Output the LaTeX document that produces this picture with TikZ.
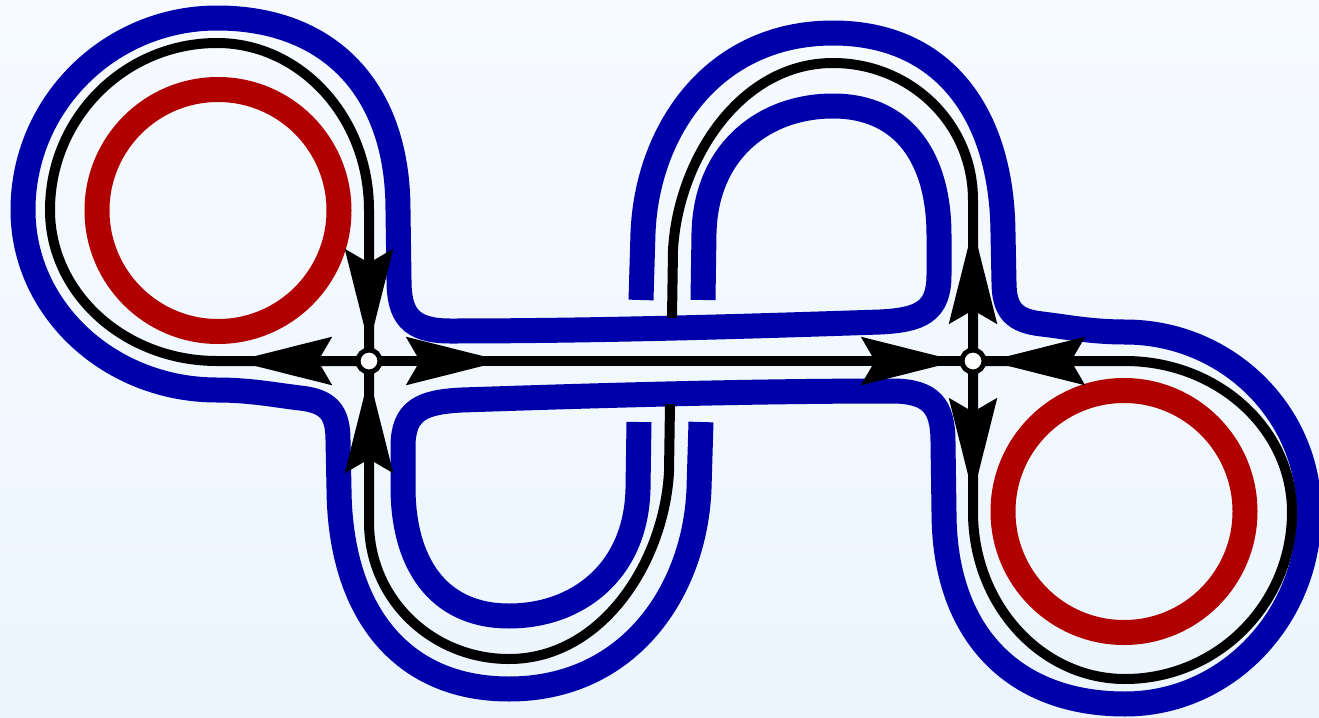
\documentclass[tikz,border=0pt]{standalone}
\usetikzlibrary{arrows.meta,decorations.markings}
\definecolor{bordoblu}{RGB}{0,0,170}
\definecolor{facciarossa}{RGB}{176,0,0}
\definecolor{sfondoalto}{RGB}{247,251,255}
\definecolor{sfondobasso}{RGB}{236,245,254}
\tikzset{
  vert/.style   = {circle, draw, line width=2.5pt, fill=white, minimum size=11pt, inner sep=0},
  bordo/.style  = {draw=bordoblu, line width=12.5pt},
  faccia/.style = {draw=facciarossa, line width=12.5pt},
  lato/.style   = {draw, line width=5pt},
  >={Stealth[length=48pt, width=23.5pt, inset=6.5pt]},
  esce/.style   = {postaction={decorate, decoration={markings, mark=at position 67pt with {\arrow{>}}}}},
  entra/.style  = {postaction={decorate, decoration={markings, mark=at position -7.5pt with {\arrow{>}}}}}
}
\newcommand{\mezzobordo}[1]{%
  \draw[bordo] (703,300) -- (704,233) .. controls (706,150) and (765,106) .. (833,106)
    .. controls (905,106) and (939,160) .. (939,235) -- (939,275)
    .. controls (939,312) and (920,320) .. (880,322)
    .. controls (760,326) and (600,331) .. (450,331)
    .. controls (410,331) and (399,315) .. (399,280) -- (398,210)
    .. controls (398,90) and (330,18) .. (217,18)
    arc[start angle=270, end angle=180, x radius=#1, y radius=192]
    arc[start angle=180, end angle=90, x radius=#1, y radius=180]
    .. controls (250,390) and (275,395) .. (300,398)
    .. controls (328,401) and (338,412) .. (338,440) -- (339,489)
    .. controls (340,610) and (400,689) .. (509,689)
    .. controls (630,689) and (695,590) .. (699,489) -- (701,422);}

\begin{document}
\begin{tikzpicture}[x=0.5pt, y=-0.5pt]
  \useasboundingbox (0,0) rectangle (1319,718);
  \shade[top color=sfondoalto, bottom color=sfondobasso] (0,0) rectangle (1319,718);
  \draw[faccia] (218,210.5) circle[radius=121];
  \draw[faccia] (1124,511.5) circle[radius=121];
  \mezzobordo{194}
  \begin{scope}[rotate around={180:(671,361)}]
    \mezzobordo{184}
  \end{scope}
  \coordinate (v1) at (369,361);
  \coordinate (v2) at (973,361);
  \coordinate (sopra) at (672,318);
  \coordinate (sotto) at (670,404);
  \draw[lato, esce, entra] (v1) -- (217,361)
    arc[start angle=90, end angle=180, x radius=167, y radius=151]
    arc[start angle=180, end angle=270, radius=167]
    arc[start angle=270, end angle=360, x radius=152, y radius=167] -- (v1);
  \draw[lato, esce, entra] (v1) -- (v2);
  \draw[lato, esce] (v2) -- (973,200) .. controls (973,123) and (910,63) .. (833,63)
    .. controls (740,63) and (678,160) .. (673,250) -- (sopra);
  \draw[lato, entra] (sotto) -- (669,472) .. controls (664,562) and (602,659) .. (509,659)
    .. controls (432,659) and (369,599) .. (369,522) -- (v1);
  \draw[lato, esce, entra] (v2) -- (973,512)
    arc[start angle=180, end angle=90, x radius=152, y radius=167]
    arc[start angle=90, end angle=0, radius=167]
    arc[start angle=0, end angle=-90, x radius=167, y radius=151] -- (v2);
  \node[vert] (V1) at (v1) {};
  \node[vert] (V2) at (v2) {};
\end{tikzpicture}
\end{document}
